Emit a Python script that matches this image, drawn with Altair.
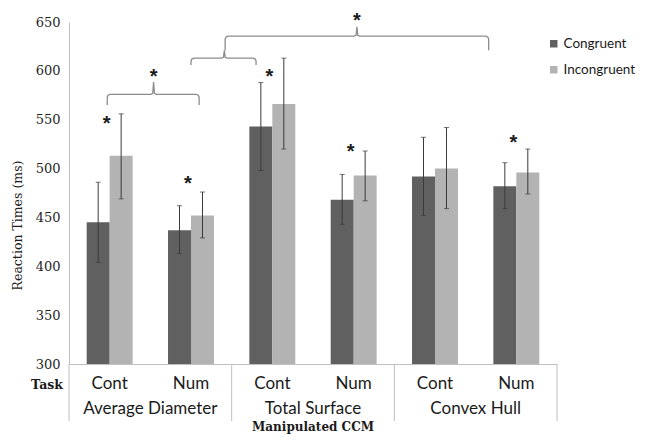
import altair as alt
import pandas as pd

# ---------------- data ----------------
groups = ["Average Diameter", "Total Surface", "Convex Hull"]
tasks = ["Cont", "Num"]
series = ["Congruent", "Incongruent"]

congruent = [445, 437, 543, 468, 492, 482]
incongruent = [513, 452, 566, 493, 500, 496]
cong_low = [404, 413, 498, 443, 452, 459]
cong_high = [486, 462, 588, 494, 532, 506]
incong_low = [469, 429, 520, 467, 459, 474]
incong_high = [556, 476, 613, 518, 542, 520]

# significance stars above individual task pairs
star_cells = ["Average Diameter|Cont", "Average Diameter|Num", "Total Surface|Cont",
              "Total Surface|Num", "Convex Hull|Num"]
star_values = [550, 488, 598, 521, 530]

# braces (x in task-cell units, y in ms)
brace_left = [0.47, 1.50, 1.92]
brace_right = [1.60, 2.30, 5.16]
brace_mid = [1.04, 1.91, 3.54]
brace_level = [576, 613, 635.5]
brace_end = [565, 606, 621]
brace_tip = [588.5, 621, 645]
brace_star_mid = [1.04, 3.54]
brace_star_val = [598, 655]

y_ticks = [300, 350, 400, 450, 500, 550, 600, 650]
y_base = 300

# ---------------- tables ----------------
cells = [f"{g}|{t}" for g in groups for t in tasks]
rows = []
for i, c in enumerate(cells):
    rows.append(dict(cell=c, series=series[0], value=congruent[i], low=cong_low[i], high=cong_high[i]))
    rows.append(dict(cell=c, series=series[1], value=incongruent[i], low=incong_low[i], high=incong_high[i]))
bars_df = pd.DataFrame(rows)

stars_df = pd.DataFrame(dict(cell=star_cells, value=star_values))

brace_rows = []
rx, ry = 0.035, 3.0
for b in range(len(brace_left)):
    L, R, M = brace_left[b], brace_right[b], brace_mid[b]
    lev, end, tip = brace_level[b], brace_end[b], brace_tip[b]
    pts = [
        (L, end), (L, lev - ry), (L + rx * 0.3, lev - ry * 0.3), (L + rx, lev),
        (M - rx, lev), (M - rx * 0.3, lev + ry * 0.3), (M, tip),
        (M + rx * 0.3, lev + ry * 0.3), (M + rx, lev),
        (R - rx, lev), (R - rx * 0.3, lev - ry * 0.3), (R, lev - ry), (R, end),
    ]
    for k, (px, py) in enumerate(pts):
        brace_rows.append(dict(brace=b, order=k, x=px, y=py))
brace_df = pd.DataFrame(brace_rows)
brace_star_df = pd.DataFrame(dict(x=brace_star_mid, y=brace_star_val))

sep_df = pd.DataFrame(dict(x=[2 * i for i in range(len(groups) + 1)]))
grp_df = pd.DataFrame(dict(x=[2 * i + 1 for i in range(len(groups))], label=groups))
one = pd.DataFrame(dict(a=[0]))

# ---------------- encodings ----------------
W, H = 488, 342
AX = "#bfbfbf"
SANS = "Lato"
SERIF = "DejaVu Serif"
TXT = "#1a1a1a"

yscale = alt.Scale(domain=[300, 650], nice=False, zero=False)
yaxis = alt.Axis(values=y_ticks, grid=False, ticks=False, domainColor=AX,
                 labelFont=SERIF, labelFontSize=13, labelColor="#1f1f1f", labelPadding=9,
                 title="Reaction Times (ms)", titleFont=SERIF, titleFontSize=12.5,
                 titleFontWeight="normal", titleColor="#1f1f1f", titleX=-52, titleY=203,
                 titleAlign="center", titleBaseline="middle")


def Y(field):
    return alt.Y(field, scale=yscale, axis=yaxis)


xscale = alt.Scale(domain=cells, paddingInner=0, paddingOuter=0)
xaxis = alt.Axis(title=None, labelExpr="split(datum.label, '|')[1]", ticks=False,
                 domainColor=AX, labelFont=SANS, labelFontSize=17, labelColor=TXT,
                 labelPadding=11, labelAngle=0)
X = alt.X("cell:N", scale=xscale, axis=xaxis, sort=cells)
XO = alt.XOffset("series:N", sort=series,
                 scale=alt.Scale(domain=series, paddingInner=0, paddingOuter=0.77))

base = alt.Chart(bars_df)
bars = base.mark_bar().encode(
    x=X, xOffset=XO, y=Y("value:Q"), y2=alt.datum(y_base),
    color=alt.Color("series:N", sort=series,
                    scale=alt.Scale(domain=series, range=["#606060", "#b3b3b3"]),
                    legend=alt.Legend(title=None, orient="none", legendX=478, legendY=15,
                                      symbolType="square", symbolSize=56, symbolStrokeWidth=0,
                                      labelFont=SANS, labelFontSize=13.5, labelColor=TXT,
                                      rowPadding=11, labelOffset=3, padding=0)),
)
ECOL = "#3a3a3a"
err = base.mark_rule(color=ECOL, strokeWidth=1).encode(x=X, xOffset=XO, y=Y("low:Q"), y2="high:Q")
cap_lo = base.mark_tick(color=ECOL, size=5, thickness=1).encode(x=X, xOffset=XO, y=Y("low:Q"))
cap_hi = base.mark_tick(color=ECOL, size=5, thickness=1).encode(x=X, xOffset=XO, y=Y("high:Q"))
stars = alt.Chart(stars_df).mark_text(text="*", font="Liberation Sans", fontSize=20,
                                      fontWeight="bold", color=TXT, dx=-3, dy=10,
                                      baseline="alphabetic").encode(x=X, y=Y("value:Q"))

main = alt.layer(bars, err, cap_lo, cap_hi, stars)

qx = alt.Scale(domain=[0, 6], nice=False, zero=False)
braces = alt.Chart(brace_df).mark_line(color="#8c8c8c", strokeWidth=1.3).encode(
    x=alt.X("x:Q", scale=qx, axis=None), y=Y("y:Q"),
    detail="brace:N", order="order:Q")
bstars = alt.Chart(brace_star_df).mark_text(text="*", font="Liberation Sans", fontSize=20,
                                           fontWeight="bold", color=TXT, dy=10,
                                           baseline="alphabetic").encode(
    x=alt.X("x:Q", scale=qx, axis=None), y=Y("y:Q"))
seps = alt.Chart(sep_df).mark_rule(color=AX, strokeWidth=1).encode(
    x=alt.X("x:Q", scale=qx, axis=None), y=alt.value(H), y2=alt.value(H + 57))
glabels = alt.Chart(grp_df).mark_text(font=SANS, fontSize=17, color=TXT,
                                      baseline="middle").encode(
    x=alt.X("x:Q", scale=qx, axis=None), y=alt.value(H + 45), text="label:N")
task = alt.Chart(one).mark_text(text="Task", font=SERIF, fontSize=12.5, fontWeight="bold",
                                color=TXT, baseline="middle").encode(
    x=alt.value(-22), y=alt.value(H + 21))
xtitle = alt.Chart(one).mark_text(text="Manipulated CCM", font=SERIF, fontSize=12,
                                  fontWeight="bold", color=TXT,
                                  baseline="alphabetic").encode(
    x=alt.value(W / 2), y=alt.value(H + 67))

ann = alt.layer(braces, bstars, seps, glabels, task, xtitle)

chart = alt.layer(main, ann).resolve_scale(x="independent").properties(
    width=W, height=H,
    autosize=alt.AutoSizeParams(type="none"),
    padding={"left": 61, "top": 14, "right": 81, "bottom": 70},
).configure_view(stroke=None)

chart.save("out.html", embed_options={"renderer": "svg", "actions": False})
